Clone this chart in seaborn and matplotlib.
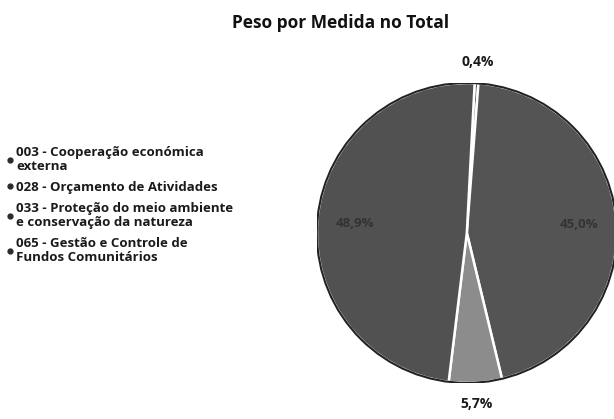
import matplotlib
matplotlib.use("Agg")
import matplotlib.pyplot as plt
from matplotlib.lines import Line2D
import seaborn as sns
import numpy as np

# Weight of each budget measure in the total
measures = [
    "003 - Cooperação económica\nexterna",
    "028 - Orçamento de Atividades",
    "033 - Proteção do meio ambiente\ne conservação da natureza",
    "065 - Gestão e Controle de\nFundos Comunitários",
]
shares = [0.4, 45.0, 5.7, 48.9]
slice_colors = ["#4e4e4e", "#545454", "#8c8c8c", "#515151"]

sns.set_theme(style="white")
plt.rcParams["font.family"] = ["Open Sans", "DejaVu Sans"]

fig = plt.figure(figsize=(6.14, 4.19), dpi=100)
fig.patch.set_facecolor("white")

ax = fig.add_axes([0.516, 0.086, 0.4886, 0.716])
wedges, _, pct_texts = ax.pie(
    shares,
    colors=slice_colors,
    startangle=87,
    counterclock=False,
    autopct=lambda p: f"{p:.1f}".replace(".", ",") + "%",
    pctdistance=0.75,
    wedgeprops=dict(edgecolor="white", linewidth=1.8),
    textprops=dict(fontsize=9.5, fontweight="bold", color="#333333"),
)
ax.set_aspect("equal")
ax.set_xlim(-1, 1)
ax.set_ylim(-1, 1)

# outer rim of the pie
ax.add_patch(plt.Circle((0, 0), 1.0, fill=False, edgecolor="#222222", linewidth=1.5))

# small slices get their percentage outside the pie
for w, t, v in zip(wedges, pct_texts, shares):
    t.set_clip_on(False)
    if v < 10:
        mid = np.deg2rad((w.theta1 + w.theta2) / 2)
        t.set_position((1.14 * np.cos(mid), 1.14 * np.sin(mid)))
        t.set_color("#1a1a1a")
        t.set_fontsize(10)

fig.text(0.555, 0.945, "Peso por Medida no Total", ha="center", va="center",
         fontsize=12.5, fontweight="bold", color="#111111")

handles = [Line2D([0], [0], marker="o", linestyle="none", markersize=3.5,
                  markerfacecolor="#2b2b2b", markeredgecolor="#2b2b2b") for _ in measures]
leg = fig.legend(handles, measures, loc="upper left", bbox_to_anchor=(-0.008, 0.68),
                 frameon=False, handlelength=0.5, handletextpad=0.2,
                 labelspacing=0.6, prop=dict(size=9.5, weight="bold"))
for txt in leg.get_texts():
    txt.set_color("#1a1a1a")
    txt.set_linespacing(1.12)

fig.savefig("out.png", dpi=100, facecolor="white")
